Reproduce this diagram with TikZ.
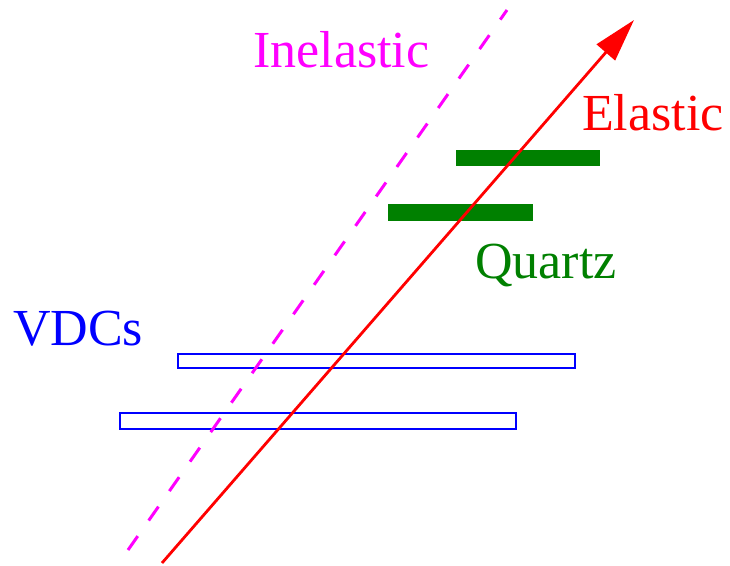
\documentclass[tikz,border=0pt]{standalone}
\usepackage{fontspec}
\setmainfont{Liberation Serif}
\usetikzlibrary{arrows.meta}
\definecolor{qgreen}{RGB}{0,128,0}
\definecolor{pmag}{RGB}{255,0,255}
\definecolor{pred}{RGB}{255,0,0}
\definecolor{pblue}{RGB}{0,0,255}
\begin{document}
\begin{tikzpicture}[x=1pt,y=-1pt,
  lbl/.style={anchor=base west,inner sep=0pt,font=\fontsize{52}{60}\selectfont},
  vdc/.style={draw=pblue,line width=2pt,fill=white},
  qbar/.style={fill=qgreen,draw=none}]
\useasboundingbox (0,0) rectangle (730,565);
% VDCs
\draw[vdc] (178,354) rectangle (575,368);
\draw[vdc] (120,413) rectangle (516,429);
% Quartz
\fill[qbar] (456,150) rectangle (600,166);
\fill[qbar] (388,204) rectangle (533,221);
% tracks
\coordinate (is) at (128,550);
\coordinate (ie) at (507,10);
\coordinate (es) at (162,563);
\coordinate (ee) at (634,20);
\draw[pmag,line width=3pt,dash pattern=on 17pt off 19pt] (is) -- (ie);
\draw[pred,line width=2.8pt,-{Triangle[length=43pt,width=24pt]}] (es) -- (ee);
% labels
\node[lbl,text=pmag] (inel) at (253,67) {Inelastic};
\node[lbl,text=pred] (el) at (582,130) {Elastic};
\node[lbl,text=qgreen] (qz) at (475,278) {Quartz};
\node[lbl,text=pblue] (vdc) at (13,345) {VDCs};
\end{tikzpicture}
\end{document}
